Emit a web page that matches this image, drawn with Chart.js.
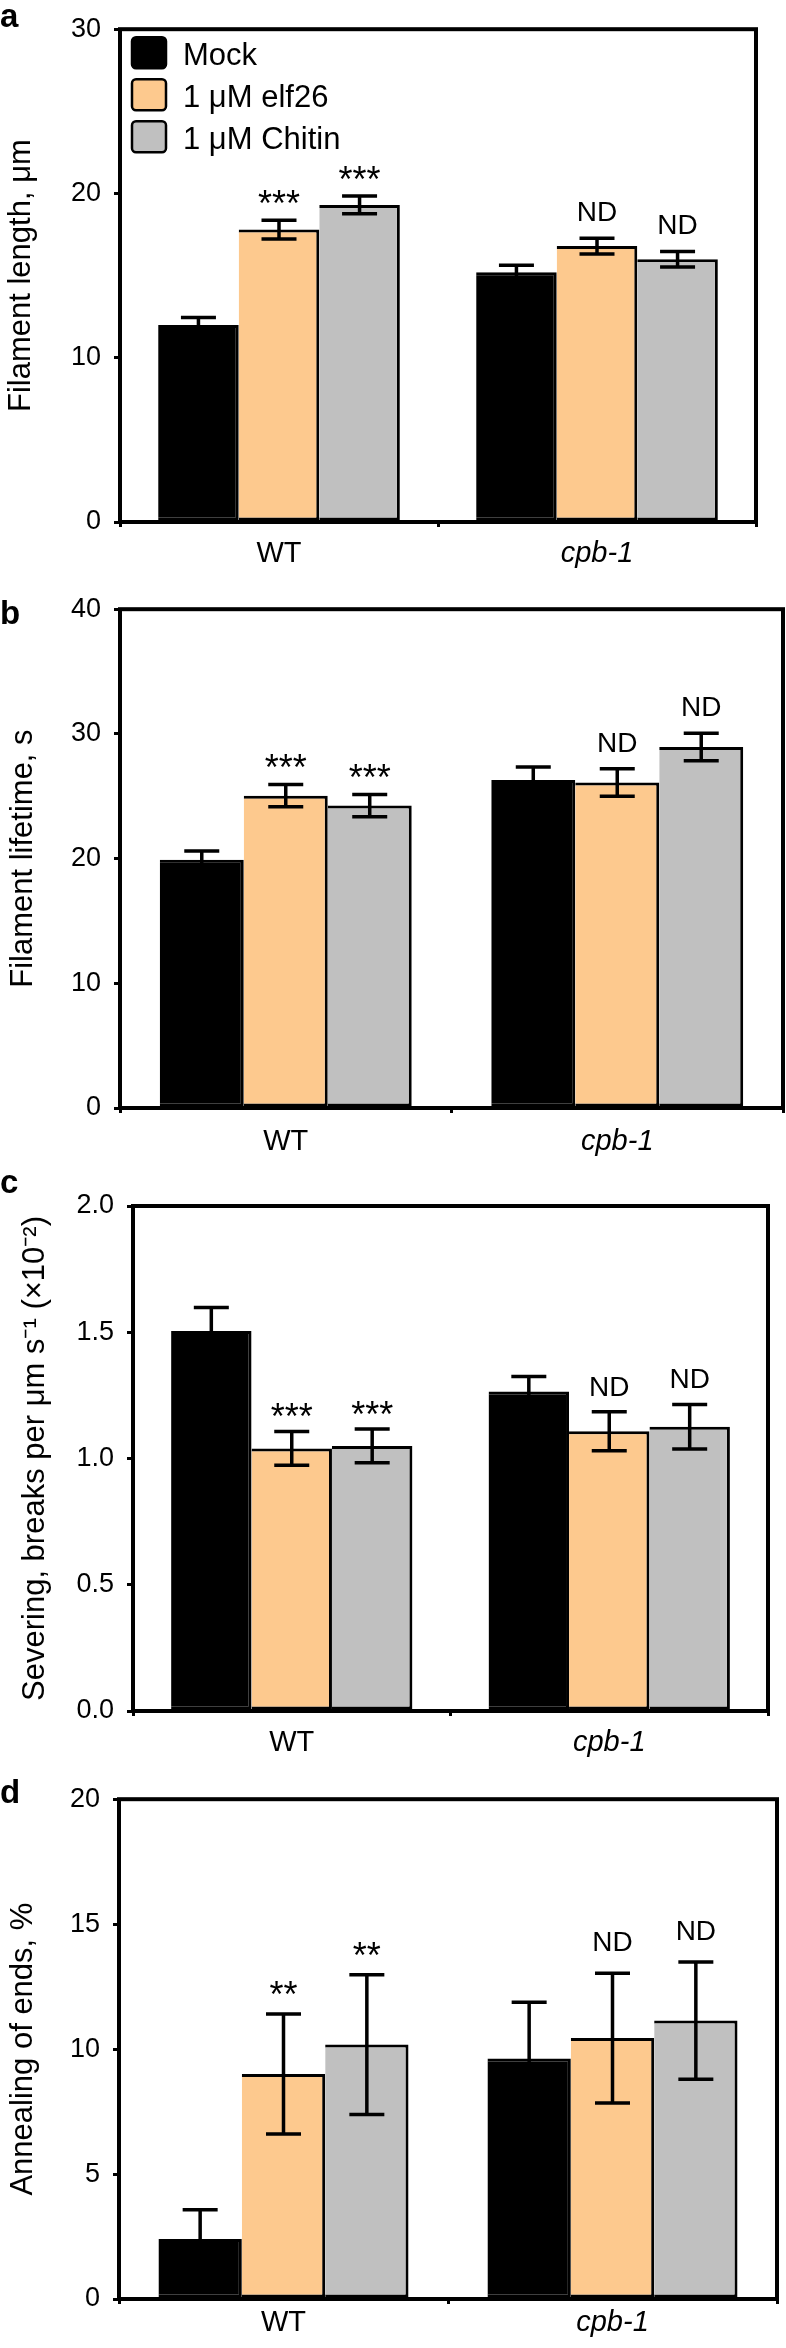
<!DOCTYPE html>
<html>
<head>
<meta charset="utf-8">
<script src="https://cdn.jsdelivr.net/npm/chart.js@4.4.1/dist/chart.umd.min.js"></script>
<style>
  body { margin: 0; background: #fff; width: 786px; height: 2348px; position: relative; overflow: hidden; }
  canvas { position: absolute; left: 0; }
</style>
</head>
<body>
<canvas id="chartA" width="786" height="580" style="top:0px"></canvas>
<canvas id="chartB" width="786" height="590" style="top:580px"></canvas>
<canvas id="chartC" width="786" height="600" style="top:1170px"></canvas>
<canvas id="chartD" width="786" height="578" style="top:1770px"></canvas>
<script>
const groups = ['WT', 'cpb-1'];
const treatments = ['Mock', '1 μM elf26', '1 μM Chitin'];
const barColors = ['#000000', '#fdc98e', '#c0c0c0'];

// a: filament length, one row per treatment, [WT, cpb-1]
const lengthMeans = [[12.0, 15.2], [17.8, 16.8], [19.3, 16.0]];
const lengthErrors = [[0.45, 0.43], [0.57, 0.48], [0.54, 0.47]];
const lengthMarks = [['', ''], ['***', 'ND'], ['***', 'ND']];

// b: filament lifetime
const lifetimeMeans = [[19.9, 26.3], [25.05, 26.1], [24.25, 28.95]];
const lifetimeErrors = [[0.7, 1.05], [0.9, 1.1], [0.9, 1.1]];
const lifetimeMarks = [['', ''], ['***', 'ND'], ['***', 'ND']];

// c: severing frequency
const severingMeans = [[1.505, 1.265], [1.04, 1.108], [1.05, 1.126]];
const severingErrors = [[0.093, 0.06], [0.067, 0.077], [0.067, 0.088]];
const severingMarks = [['', ''], ['***', 'ND'], ['***', 'ND']];

// d: annealing of ends
const annealingMeans = [[2.4, 9.62], [9.0, 10.44], [10.18, 11.14]];
const annealingErrors = [[1.17, 2.25], [2.4, 2.6], [2.8, 2.35]];
const annealingMarks = [['', ''], ['**', 'ND'], ['**', 'ND']];

const FONT = "'Liberation Sans', Arial, Helvetica, sans-serif";

// error bars + significance labels, drawn from the y scale
const errorBarPlugin = {
  id: 'errorBars',
  afterDatasetsDraw(chart, args, opts) {
    const { ctx } = chart;
    const yScale = chart.scales.y;
    ctx.save();
    ctx.strokeStyle = '#000';
    ctx.fillStyle = '#000';
    ctx.lineWidth = opts.lineWidth;
    chart.data.datasets.forEach((ds, i) => {
      const meta = chart.getDatasetMeta(i);
      meta.data.forEach((bar, j) => {
        const v = ds.data[j];
        const e = opts.errors[i][j];
        const yTop = yScale.getPixelForValue(v + e);
        const yBot = yScale.getPixelForValue(v - e);
        const half = opts.capWidth / 2;
        ctx.beginPath();
        ctx.moveTo(bar.x, yTop);
        ctx.lineTo(bar.x, yBot);
        ctx.moveTo(bar.x - half, yTop);
        ctx.lineTo(bar.x + half, yTop);
        ctx.moveTo(bar.x - half, yBot);
        ctx.lineTo(bar.x + half, yBot);
        ctx.stroke();

        const mark = opts.marks[i][j];
        if (mark) {
          ctx.textAlign = 'center';
          ctx.textBaseline = 'alphabetic';
          if (mark.startsWith('*')) {
            ctx.font = `36px ${FONT}`;
            ctx.fillText(mark, bar.x, yTop - opts.starGap);
          } else {
            ctx.font = `28px ${FONT}`;
            ctx.fillText(mark, bar.x, yTop - opts.ndGap);
          }
        }
      });
    });
    ctx.restore();
  }
};

// box round the plot + panel letter + legend
const framePlugin = {
  id: 'frame',
  afterDraw(chart, args, opts) {
    const { ctx, chartArea: a } = chart;
    ctx.save();
    ctx.strokeStyle = '#000';
    ctx.lineWidth = 4;
    ctx.strokeRect(a.left, a.top, a.right - a.left, a.bottom - a.top);

    ctx.fillStyle = '#000';
    ctx.font = `bold 33px ${FONT}`;
    ctx.textAlign = 'left';
    ctx.textBaseline = 'alphabetic';
    ctx.fillText(opts.letter, 0, opts.letterY);

    if (opts.legend) {
      chart.data.datasets.forEach((ds, i) => {
        const x = a.left + 12;
        const y = a.top + 8 + i * 42;
        ctx.beginPath();
        ctx.roundRect(x, y, 34, 31, 4);
        ctx.fillStyle = ds.backgroundColor;
        ctx.fill();
        ctx.lineWidth = 2.5;
        ctx.strokeStyle = '#000';
        ctx.stroke();
        ctx.fillStyle = '#000';
        ctx.font = `31px ${FONT}`;
        ctx.fillText(ds.label, x + 51, y + 28);
      });
    }
    ctx.restore();
  }
};

function makePanel(id, p) {
  const canvas = document.getElementById(id);
  const H = canvas.height;
  const datasets = treatments.map((t, i) => ({
    label: t,
    data: p.means[i],
    backgroundColor: barColors[i],
    borderColor: '#000',
    borderWidth: 3,
    borderSkipped: 'left',
    barPercentage: 1,
    categoryPercentage: 0.76
  }));

  return new Chart(canvas.getContext('2d'), {
    type: 'bar',
    data: { labels: groups, datasets },
    plugins: [errorBarPlugin, framePlugin],
    options: {
      responsive: false,
      animation: false,
      layout: { padding: { top: p.top, bottom: 0, left: p.padLeft, right: 786 - p.right } },
      plugins: {
        legend: { display: false },
        tooltip: { enabled: false },
        errorBars: { errors: p.errors, marks: p.marks, capWidth: 35, lineWidth: 3.5, ndGap: p.ndGap, starGap: p.starGap },
        frame: { letter: p.letter, letterY: p.letterY, legend: !!p.legend }
      },
      scales: {
        x: {
          offset: true,
          ticks: {
            color: '#000',
            padding: p.xPad,
            font: ctx => ({ size: 29, family: FONT, style: ctx.index === 1 ? 'italic' : 'normal' })
          },
          grid: { display: true, offset: true, drawOnChartArea: false, tickLength: 5, color: '#000', lineWidth: 3 },
          border: { display: false },
          afterFit: s => { s.height = H - p.bottom; }
        },
        y: {
          min: 0,
          max: p.max,
          ticks: {
            stepSize: p.step,
            color: '#000',
            padding: 13,
            font: { size: 27, family: FONT },
            callback: v => v.toFixed(p.decimals)
          },
          grid: { display: true, drawOnChartArea: false, tickLength: 6, color: '#000', lineWidth: 3 },
          border: { display: false },
          title: { display: true, text: p.title, color: '#000', font: { size: 31, family: FONT }, padding: { top: 0, bottom: 0 } },
          afterFit: s => { s.width = p.left - p.padLeft; }
        }
      }
    }
  });
}

makePanel('chartA', {
  means: lengthMeans, errors: lengthErrors, marks: lengthMarks,
  title: 'Filament length, μm', max: 30, step: 10, decimals: 0,
  top: 17, bottom: 522, left: 120, right: 756, padLeft: 3, xPad: 10,
  letter: 'a', letterY: 27, legend: true, ndGap: 17, starGap: 4
});

makePanel('chartB', {
  means: lifetimeMeans, errors: lifetimeErrors, marks: lifetimeMarks,
  title: 'Filament lifetime, s', max: 40, step: 10, decimals: 0,
  top: 23, bottom: 528, left: 120, right: 783, padLeft: 5, xPad: 12,
  letter: 'b', letterY: 44, ndGap: 17, starGap: 4
});

makePanel('chartC', {
  means: severingMeans, errors: severingErrors, marks: severingMarks,
  title: 'Severing, breaks per μm s⁻¹ (×10⁻²)', max: 2, step: 0.5, decimals: 1,
  top: 36, bottom: 541, left: 133, right: 768, padLeft: 17, xPad: 10,
  letter: 'c', letterY: 23, ndGap: 16, starGap: 2
});

makePanel('chartD', {
  means: annealingMeans, errors: annealingErrors, marks: annealingMarks,
  title: 'Annealing of ends, %', max: 20, step: 5, decimals: 0,
  top: 24, bottom: 529, left: 119, right: 777, padLeft: 5, xPad: 2,
  letter: 'd', letterY: 33, ndGap: 22, starGap: 7
});
</script>
</body>
</html>
